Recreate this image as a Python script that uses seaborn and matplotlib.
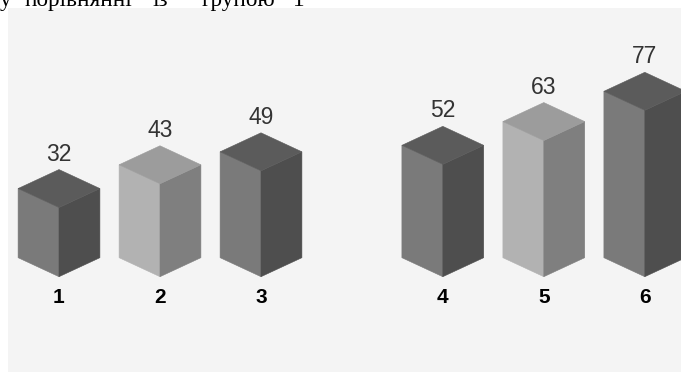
import matplotlib
matplotlib.use("Agg")
import matplotlib.pyplot as plt
import seaborn as sns
import pandas as pd

# ---- data ----
groups = ["1", "2", "3", "4", "5", "6"]
values = [32, 43, 49, 52, 63, 77]
shades = ["dark", "light", "dark", "dark", "light", "dark"]
caption_words = ["у", "порівнянні", "із", "групою", "1"]

# ---- styles ----
palette = {
    "dark": {"front": "#7a7a7a", "side": "#4e4e4e", "top": "#5b5b5b"},
    "light": {"front": "#b2b2b2", "side": "#7f7f7f", "top": "#9c9c9c"},
}

W, H, DPI = 681, 372, 100
sns.set_theme(style="white")
plt.rcParams["font.family"] = ["Liberation Sans", "DejaVu Sans"]

fig = plt.figure(figsize=(W / DPI, H / DPI), dpi=DPI)
fig.patch.set_facecolor("white")
ax = fig.add_axes([8 / W, 0, (W - 8) / W, (H - 8) / H])
ax.set_facecolor("#f4f4f4")

PX_X = 101.0      # pixels per category step
PX_Y = 2.161      # pixels per value unit
first_center_px = 59 - 8
base_px = 276.7   # front-bottom vertex, pixels from top
depth = 19 / PX_Y # isometric depth in value units

gap = 0.8
pos = [i + (gap if i >= 3 else 0) for i in range(len(groups))]
df = pd.DataFrame({"pos": pos, "value": values, "group": groups, "shade": shades})

sns.barplot(data=df, x="pos", y="value", native_scale=True, width=0.81,
            color="#7a7a7a", errorbar=None, ax=ax)

bars = sorted(ax.patches, key=lambda p: p.get_x())
for p, (_, row) in zip(bars, df.sort_values("pos").iterrows()):
    c = p.get_x() + p.get_width() / 2
    w = p.get_width() / 2
    v = p.get_height()
    p.set_visible(False)
    col = palette[row["shade"]]
    left = [(c - w, depth), (c, 0), (c, v), (c - w, v + depth)]
    right = [(c, 0), (c + w, depth), (c + w, v + depth), (c, v)]
    top = [(c, v), (c - w, v + depth), (c, v + 2 * depth), (c + w, v + depth)]
    for poly, fc in ((left, col["front"]), (right, col["side"]), (top, col["top"])):
        xs, ys = zip(*poly)
        ax.fill(xs, ys, facecolor=fc, edgecolor=fc, linewidth=0.4, zorder=3)
    ax.text(c, v + 2 * depth + 9 / PX_Y, f"{row['value']:g}", ha="center",
            va="baseline", fontsize=16.5, color="#333333", zorder=4)
    ax.text(c, -(297.5 - base_px) / PX_Y, row["group"], ha="center", va="center",
            fontsize=15, fontweight="bold", color="black", zorder=4)

ax.set_xlim(-first_center_px / PX_X, -first_center_px / PX_X + (W - 8) / PX_X)
ax.set_ylim(-(H - base_px) / PX_Y, (base_px - 8) / PX_Y)
ax.set_xticks([])
ax.set_yticks([])
ax.set_xlabel("")
ax.set_ylabel("")
for s in ax.spines.values():
    s.set_visible(False)

# cropped caption at the very top (only its lower part is visible, as in the source)
serif = ["Liberation Serif", "DejaVu Serif"]
renderer = fig.canvas.get_renderer()
probe = fig.text(0, 0, caption_words[1], family=serif, fontsize=16)
probe_w = probe.get_window_extent(renderer).width
probe.remove()
cap_size = 16 * 107 / probe_w
word_x = [0, 25, 152, 202, 293]
for wx, word in zip(word_x, caption_words):
    fig.text(wx / W, 1 - 6 / H, word, family=serif,
             fontsize=cap_size, va="baseline", ha="left", color="black")

fig.savefig("out.png", dpi=DPI, facecolor="white")
